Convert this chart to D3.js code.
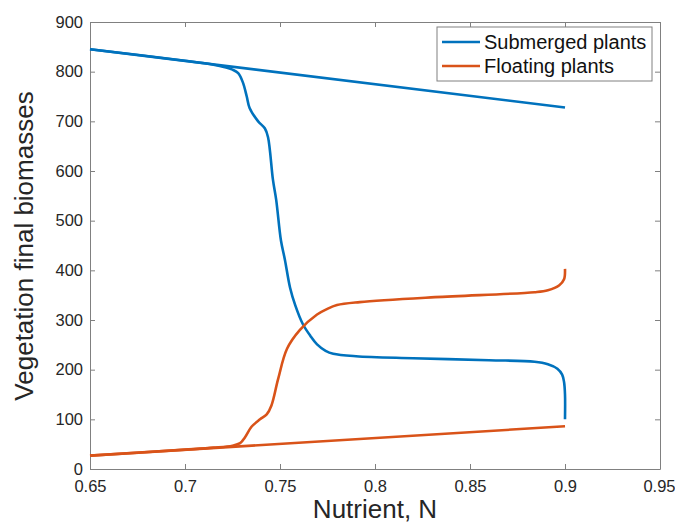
<!DOCTYPE html>
<html>
<head>
<meta charset="utf-8">
<script src="https://cdn.jsdelivr.net/npm/d3@7/dist/d3.min.js"></script>
<style>
  html, body { margin: 0; padding: 0; background: #fff; }
  svg { display: block; font-family: "Liberation Sans", Arial, Helvetica, sans-serif; }
</style>
</head>
<body>
<svg id="chart" width="675" height="524"></svg>
<script>
// Axis ticks
const nutrientTicks = [0.65, 0.7, 0.75, 0.8, 0.85, 0.9, 0.95];
const biomassTicks = [0, 100, 200, 300, 400, 500, 600, 700, 800, 900];

// Series names and colours
const seriesNames = ["Submerged plants", "Floating plants"];
const seriesColors = ["#0072BD", "#D95319"];

// Submerged plants: clear-water branch (nutrient, biomass)
const submergedUpper = [[0.65, 845], [0.9, 728]];
// Submerged plants: branch collapsing to the turbid state
const submergedLower = [
  [0.65, 845], [0.70, 822], [0.715, 814], [0.721, 809], [0.725, 804], [0.728, 797],
  [0.7305, 778], [0.7325, 750], [0.734, 727], [0.7385, 700], [0.742, 686],
  [0.7437, 668], [0.7463, 582], [0.748, 542], [0.7505, 460], [0.7526, 421],
  [0.7553, 365], [0.758, 330], [0.762, 292], [0.766, 268], [0.7695, 251],
  [0.774, 238], [0.778, 232], [0.79, 227], [0.82, 223], [0.86, 219],
  [0.884, 216], [0.891, 211], [0.896, 202], [0.8985, 190], [0.8995, 175],
  [0.9, 150], [0.9, 100]
];

// Floating plants: low branch (nutrient, biomass)
const floatingLower = [[0.65, 27], [0.9, 86]];
// Floating plants: branch rising to dominance
const floatingUpper = [
  [0.65, 27], [0.70, 39], [0.715, 43], [0.725, 47], [0.729, 52], [0.7316, 64],
  [0.735, 85], [0.7395, 100], [0.743, 110], [0.7455, 128], [0.749, 181],
  [0.7537, 242], [0.7605, 280], [0.7695, 311], [0.7747, 322], [0.78, 330],
  [0.792, 336], [0.8316, 346], [0.884, 356], [0.891, 360], [0.897, 370],
  [0.8995, 382], [0.9, 403]
];

const svg = d3.select("#chart");
const plot = { left: 90, right: 660, top: 22, bottom: 469 };

const x = d3.scaleLinear().domain([0.65, 0.95]).range([plot.left, plot.right]);
const y = d3.scaleLinear().domain([0, 900]).range([plot.bottom, plot.top]);

const axisColor = "#808080";
const textColor = "#262626";
const tickLen = 5;

// Axes with inward ticks on all four sides
const gx = svg.append("g").attr("transform", `translate(0,${plot.bottom})`)
  .call(d3.axisBottom(x).tickValues(nutrientTicks).tickFormat(d3.format("~g"))
    .tickSizeInner(-tickLen).tickSizeOuter(0).tickPadding(11));
const gy = svg.append("g").attr("transform", `translate(${plot.left},0)`)
  .call(d3.axisLeft(y).tickValues(biomassTicks).tickFormat(d3.format("d"))
    .tickSizeInner(-tickLen).tickSizeOuter(0).tickPadding(7));
const gt = svg.append("g").attr("transform", `translate(0,${plot.top})`)
  .call(d3.axisTop(x).tickValues(nutrientTicks).tickFormat("")
    .tickSizeInner(-tickLen).tickSizeOuter(0));
const gr = svg.append("g").attr("transform", `translate(${plot.right},0)`)
  .call(d3.axisRight(y).tickValues(biomassTicks).tickFormat("")
    .tickSizeInner(-tickLen).tickSizeOuter(0));

[gx, gy, gt, gr].forEach(g => {
  g.selectAll(".domain").attr("stroke", axisColor).attr("stroke-width", 1);
  g.selectAll(".tick line").attr("stroke", axisColor).attr("stroke-width", 1);
  g.selectAll(".tick text").attr("fill", textColor)
    .style("font-size", "16.5px").style("font-family", "'Liberation Sans', Arial, sans-serif");
});

// Keep the last nutrient label inside the canvas edge
gx.selectAll(".tick text")
  .filter(d => d === nutrientTicks[nutrientTicks.length - 1])
  .attr("text-anchor", "end")
  .attr("x", 675 - plot.right);

// Series lines
const line = d3.line()
  .x(d => x(d[0]))
  .y(d => y(d[1]))
  .curve(d3.curveCatmullRom.alpha(0.5));

const branches = [
  { data: submergedUpper, color: seriesColors[0] },
  { data: submergedLower, color: seriesColors[0] },
  { data: floatingLower, color: seriesColors[1] },
  { data: floatingUpper, color: seriesColors[1] }
];

svg.append("g").selectAll("path")
  .data(branches)
  .join("path")
  .attr("d", d => line(d.data))
  .attr("fill", "none")
  .attr("stroke", d => d.color)
  .attr("stroke-width", 2.6)
  .attr("stroke-linejoin", "round")
  .attr("stroke-linecap", "butt");

// Axis titles
svg.append("text")
  .attr("x", (plot.left + plot.right) / 2)
  .attr("y", 518)
  .attr("text-anchor", "middle")
  .attr("fill", textColor)
  .style("font-size", "26px")
  .text("Nutrient, N");

svg.append("text")
  .attr("transform", `translate(33,246) rotate(-90)`)
  .attr("text-anchor", "middle")
  .attr("fill", textColor)
  .style("font-size", "26px")
  .text("Vegetation final biomasses");

// Legend
const legend = svg.append("g");
legend.append("rect")
  .attr("x", 437).attr("y", 27).attr("width", 215).attr("height", 54)
  .attr("fill", "#fff").attr("stroke", axisColor).attr("stroke-width", 1);

const legendItems = legend.selectAll("g.item")
  .data(seriesNames)
  .join("g")
  .attr("class", "item")
  .attr("transform", (d, i) => `translate(0,${42 + i * 24})`);

legendItems.append("line")
  .attr("x1", 442).attr("x2", 480).attr("y1", 0).attr("y2", 0)
  .attr("stroke", (d, i) => seriesColors[i]).attr("stroke-width", 2.6);

legendItems.append("text")
  .attr("x", 484).attr("y", 7)
  .attr("fill", "#111")
  .style("font-size", "20px")
  .text(d => d);
</script>
</body>
</html>
